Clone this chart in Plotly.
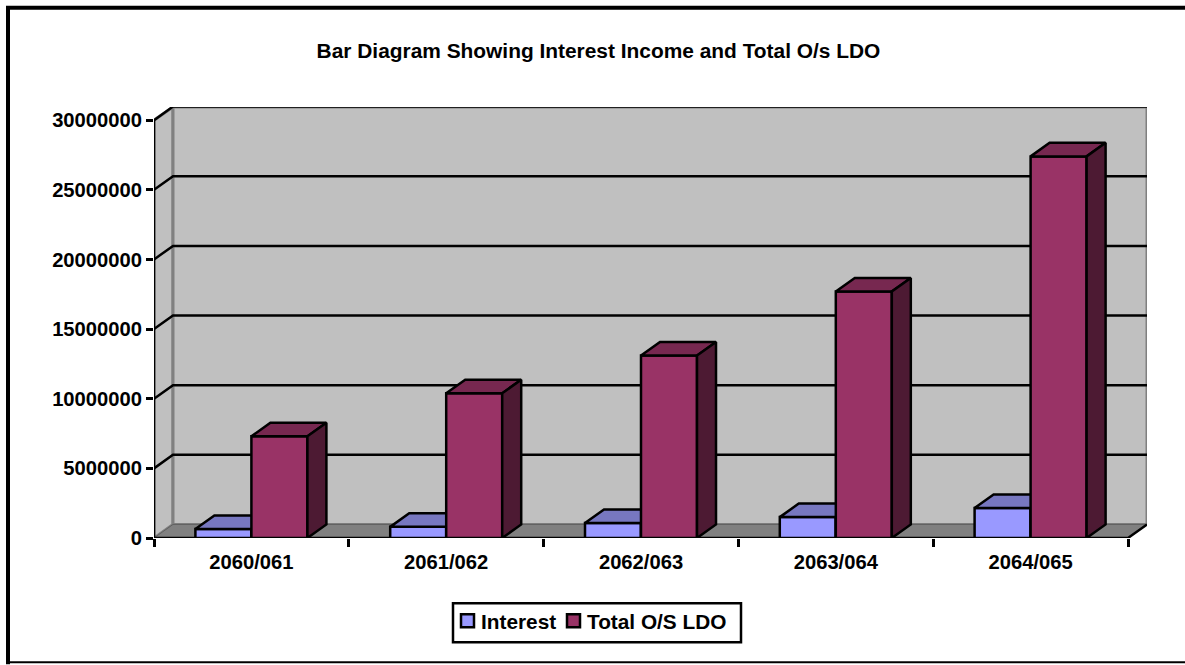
import plotly.graph_objects as go

categories = ["2060/061", "2061/062", "2062/063", "2063/064", "2064/065"]
interest = [650000, 800000, 1070000, 1500000, 2150000]
total_ldo = [7300000, 10390000, 13100000, 17700000, 27400000]
y_ticks = [0, 5000000, 10000000, 15000000, 20000000, 25000000, 30000000]
series_names = ["Interest", "Total O/S LDO"]

WIDTH, HEIGHT = 1185, 665
LEFT, RIGHT, TOP, BOTTOM = 154, 1147, 106.5, 538.5
PX_PER_CAT = 194.8
PX_PER_UNIT = 69.8 / 5000000
DEPTH_X = 19 / PX_PER_CAT
DEPTH_Y = 13.6 / PX_PER_UNIT
BAR_W = 0.2875
LW = 2.5

FONT = "Liberation Sans"
BLUE, MAROON = "#9999FF", "#993366"
X_RANGE = [-0.5, -0.5 + (RIGHT - LEFT) / PX_PER_CAT]
Y_RANGE = [0, (BOTTOM - TOP) / PX_PER_UNIT]
X_END = len(categories) - 0.5


def poly(xs, ys, closed=True):
    path = "M" + "L".join(f"{x},{y}" for x, y in zip(xs, ys))
    return path + ("Z" if closed else "")


def paper_x(px):
    return (px - LEFT) / (RIGHT - LEFT)


def paper_y(px):
    return (BOTTOM - px) / (BOTTOM - TOP)


def box_faces(values, offset, top_color, side_color, xaxis, yaxis):
    # top and right face of each bar, the front is a real go.Bar
    traces = []
    for i, v in enumerate(values):
        x0, x1 = i + offset, i + offset + BAR_W
        faces = [
            ([x0, x1, x1 + DEPTH_X, x0 + DEPTH_X], [v, v, v + DEPTH_Y, v + DEPTH_Y], top_color),
            ([x1, x1 + DEPTH_X, x1 + DEPTH_X, x1], [0, DEPTH_Y, v + DEPTH_Y, v], side_color),
        ]
        for xs, ys, color in faces:
            traces.append(go.Scatter(
                x=xs + xs[:1], y=ys + ys[:1], mode="lines", fill="toself", fillcolor=color,
                line=dict(color="black", width=LW), showlegend=False, hoverinfo="skip",
                xaxis=xaxis, yaxis=yaxis, cliponaxis=False))
    return traces


fig = go.Figure()

# two overlaid subplots so the maroon bars sit on top of the blue top faces
fig.add_trace(go.Bar(x=list(range(5)), y=interest, width=BAR_W, offset=-BAR_W, name=series_names[0],
                     marker=dict(color=BLUE, line=dict(color="black", width=LW)), cliponaxis=False))
fig.add_traces(box_faces(interest, -BAR_W, "#7777C0", "#4D4D80", "x", "y"))
fig.add_trace(go.Bar(x=list(range(5)), y=total_ldo, width=BAR_W, offset=0, name=series_names[1],
                     marker=dict(color=MAROON, line=dict(color="black", width=LW)), cliponaxis=False,
                     xaxis="x2", yaxis="y2"))
fig.add_traces(box_faces(total_ldo, 0, "#772850", "#4D1A33", "x2", "y2"))

# walls and floor
shapes = [
    dict(type="path", path=poly([-0.5, -0.5 + DEPTH_X, -0.5 + DEPTH_X, -0.5], [0, DEPTH_Y, Y_RANGE[1], 30000000]),
         fillcolor="#C0C0C0", line=dict(color="#808080", width=3), layer="below"),
    dict(type="rect", x0=-0.5 + DEPTH_X, x1=X_RANGE[1], y0=DEPTH_Y, y1=Y_RANGE[1],
         fillcolor="#C0C0C0", line=dict(color="#808080", width=3), layer="below"),
    dict(type="path", path=poly([-0.5, -0.5 + DEPTH_X, X_RANGE[1], X_END], [0, DEPTH_Y, DEPTH_Y, 0]),
         fillcolor="#808080", line=dict(color="#606060", width=1), layer="below"),
]
for t in y_ticks[1:]:
    shapes.append(dict(type="path", path=poly([-0.5, -0.5 + DEPTH_X, X_RANGE[1]], [t, t + DEPTH_Y, t + DEPTH_Y], closed=False),
                       line=dict(color="black", width=LW), layer="below"))
# front axis lines and right floor edge
shapes.append(dict(type="line", x0=-0.5, x1=-0.5, y0=0, y1=30000000, line=dict(color="black", width=LW), layer="below"))
shapes.append(dict(type="path", path=poly([-0.5, X_END, X_RANGE[1]], [0, 0, DEPTH_Y], closed=False),
                   line=dict(color="black", width=LW), layer="below"))
# chart area border, the right edge falls outside the window
for x0, y0, x1, y1, w in [(8, 7, 8, 665, 4), (6, 7, 1185, 7, 4), (8, 663, 1185, 663, 2)]:
    shapes.append(dict(type="line", xref="paper", yref="paper", x0=paper_x(x0), x1=paper_x(x1),
                       y0=paper_y(y0), y1=paper_y(y1), line=dict(color="black", width=w)))

# legend box is drawn by hand, plotly's own legend leaves too wide a gap after the swatch
shapes.append(dict(type="rect", xref="paper", yref="paper", x0=paper_x(453), x1=paper_x(741),
                   y0=paper_y(604), y1=paper_y(643), fillcolor="white", line=dict(color="black", width=2.5)))
annotations = []
for name, color, sw_x, text_x in zip(series_names, [BLUE, MAROON], [461, 567], [481, 587]):
    shapes.append(dict(type="rect", xref="paper", yref="paper", x0=paper_x(sw_x), x1=paper_x(sw_x + 13),
                       y0=paper_y(615), y1=paper_y(628), fillcolor=color, line=dict(color="black", width=2.5)))
    annotations.append(dict(text=name, xref="paper", yref="paper", x=paper_x(text_x), y=paper_y(622),
                            xanchor="left", yanchor="middle", showarrow=False, xshift=-2,
                            font=dict(family=FONT, size=20.8, color="black", weight="bold")))

bold = dict(family=FONT, size=20.2, color="black", weight="bold")

fig.update_layout(
    width=WIDTH, height=HEIGHT,
    margin=dict(l=LEFT, r=WIDTH - RIGHT, t=TOP, b=HEIGHT - BOTTOM, pad=0, autoexpand=False),
    paper_bgcolor="white", plot_bgcolor="rgba(0,0,0,0)",
    barmode="overlay", showlegend=False,
    shapes=shapes, annotations=annotations,
    title=dict(text="Bar Diagram Showing Interest Income and Total O/s LDO", x=598.5 / WIDTH, xanchor="center",
               y=1 - 51 / HEIGHT, yanchor="middle", font=dict(family=FONT, size=20.9, color="black", weight="bold")),
    xaxis=dict(range=X_RANGE, tickmode="array", tickvals=[i - 0.5 for i in range(6)], showticklabels=False,
               ticks="outside", ticklen=8, tickwidth=LW, tickcolor="black", showgrid=False, showline=False,
               zeroline=False),
    yaxis=dict(range=Y_RANGE, tickmode="array", tickvals=y_ticks, tickformat="d", ticks="outside", ticklen=7,
               tickwidth=LW, tickcolor="black", showgrid=False, showline=False, zeroline=False, tickfont=bold),
    xaxis2=dict(range=X_RANGE, overlaying="x", anchor="y2", tickmode="array", tickvals=list(range(5)),
                ticktext=categories, ticks="", showgrid=False, showline=False, zeroline=False, tickfont=bold,
                ticklabelstandoff=10),
    yaxis2=dict(range=Y_RANGE, overlaying="y", anchor="x2", showticklabels=False, ticks="", showgrid=False,
                showline=False, zeroline=False),
)

fig.write_html("out.html", config={"displayModeBar": False}, post_script="document.body.style.margin='0';")
